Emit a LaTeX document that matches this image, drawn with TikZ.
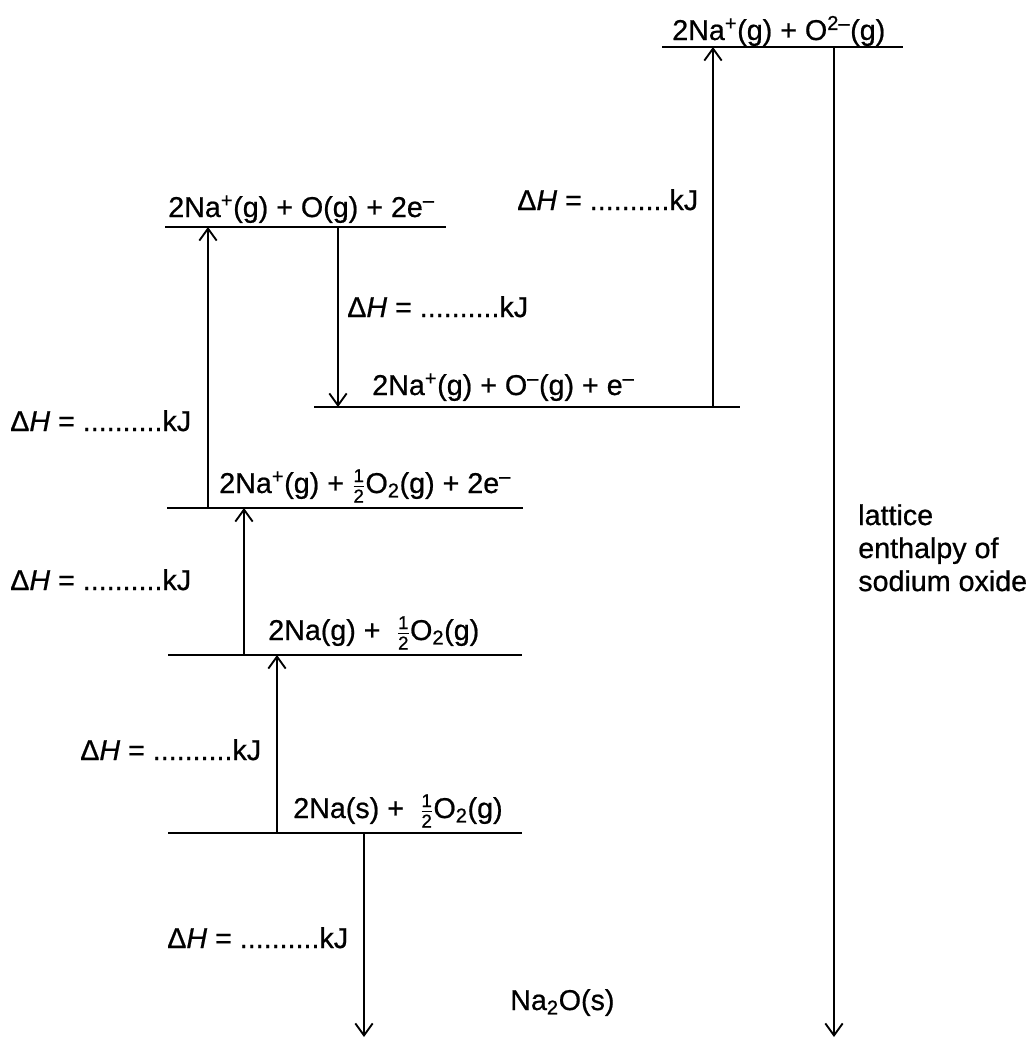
\documentclass[tikz,border=0pt]{standalone}
\usepackage{fontspec}
\setmainfont{Liberation Sans}
\usetikzlibrary{arrows.meta}
\newcommand\fsz{\fontsize{21.5pt}{24.75pt}\selectfont\addfontfeature{FakeBold=0.7}}
\newcommand\hfd[1]{\mbox{\fontsize{14pt}{14pt}\selectfont\addfontfeature{FakeBold=0.7}#1}}
\newcommand\hf{\ensuremath{\frac{\hfd{1}}{\hfd{2}}}}
\newcommand\dH{\textup{Δ}\textit{H} = ..........kJ}
\begin{document}
\begin{tikzpicture}[x=0.75pt,y=-0.75pt,
  lvl/.style={line width=1.4pt},
  conn/.style={line width=1.4pt,-{Straight Barb[length=9pt,width=13pt,line width=1.4pt]}},
  lab/.style={anchor=base west,inner sep=0pt,font=\fsz}]
\useasboundingbox (0,0) rectangle (1032,1043);
% energy levels
\draw[lvl] (662,47) -- (903,47);
\draw[lvl] (165,227) -- (446,227);
\draw[lvl] (314,407) -- (740,407);
\draw[lvl] (167,508) -- (523,508);
\draw[lvl] (168,655) -- (522,655);
\draw[lvl] (168,833) -- (522,833);
% level labels
\node[lab] (L1) at (672,40) {2Na\textsuperscript{+}(g) + O\textsuperscript{2–}(g)};
\node[lab] (L2) at (168,217) {2Na\textsuperscript{+}(g) + O(g) + 2e\textsuperscript{–}};
\node[lab] (L3) at (372,395) {2Na\textsuperscript{+}(g) + O\textsuperscript{–}(g) + e\textsuperscript{–}};
\node[lab] (L4) at (219,493) {2Na\textsuperscript{+}(g) + \hf O\textsubscript{2}(g) + 2e\textsuperscript{–}};
\node[lab] (L5) at (268,640) {2Na(g) + \ \hf O\textsubscript{2}(g)};
\node[lab] (L6) at (293,818) {2Na(s) + \ \hf O\textsubscript{2}(g)};
\node[lab] (P) at (510,1010) {Na\textsubscript{2}O(s)};
% arrow end points
\coordinate (a0) at (713,407); \coordinate (a1) at (713,47);
\coordinate (b0) at (834,47);  \coordinate (b1) at (834,1037);
\coordinate (c0) at (208,508); \coordinate (c1) at (208,227);
\coordinate (d0) at (338,227); \coordinate (d1) at (338,407);
\coordinate (e0) at (244,655); \coordinate (e1) at (244,508);
\coordinate (f0) at (277,833); \coordinate (f1) at (277,655);
\coordinate (g0) at (364,833); \coordinate (g1) at (364,1037);
\draw[conn] (a0) -- (a1);
\draw[conn] (b0) -- (b1);
\draw[conn] (c0) -- (c1);
\draw[conn] (d0) -- (d1);
\draw[conn] (e0) -- (e1);
\draw[conn] (f0) -- (f1);
\draw[conn] (g0) -- (g1);
% enthalpy labels
\node[lab] (h1) at (517,210) {\dH};
\node[lab] (h2) at (347,317) {\dH};
\node[lab] (h3) at (10,431) {\dH};
\node[lab] (h4) at (10,590) {\dH};
\node[lab] (h5) at (80,760) {\dH};
\node[lab] (h6) at (167,948) {\dH};
\node[anchor=north west,inner sep=0pt,font=\fsz,align=left] (lat) at (858,504) {lattice\\enthalpy of\\sodium oxide};
\end{tikzpicture}
\end{document}
